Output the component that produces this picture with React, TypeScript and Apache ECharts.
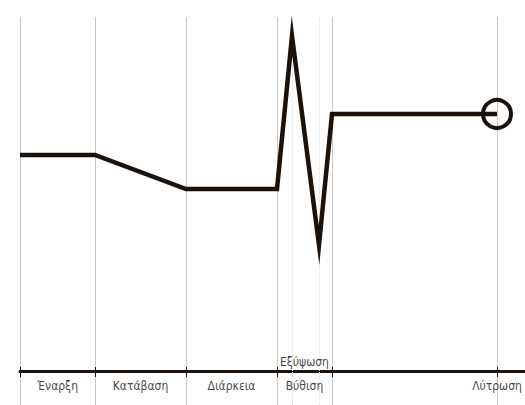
import React, { useEffect, useRef } from "react";
import * as echarts from "echarts";

// Phase boundary positions (x) and line levels (y)
const pointX = [0, 75, 166, 257, 272, 299, 312, 477];
const pointY = [21.6, 21.6, 18.2, 18.2, 33.5, 12.6, 25.7, 25.7];
// Solid boundary lines / ticks
const boundaries = [0, 75, 166, 257, 312, 477];
// Faint dotted lines inside the spike phase
const innerLines = [272, 299];
// Phase labels under the axis (at interval midpoints / end)
const labelPos = [37.5, 120.5, 211.5, 284.5, 477];
const labelText = ["Έναρξη", "Κατάβαση", "Διάρκεια", "Βύθιση", "Λύτρωση"];
// Label above the axis
const upperLabelPos = [284.5];
const upperLabelText = ["Εξύψωση"];

const INK = "#1b120c";
const TEXT = "#111111";
const FONT = "'Liberation Sans Narrow', 'DejaVu Sans Condensed', sans-serif";

export default function App() {
  const ref = useRef<HTMLDivElement>(null);
  useEffect(() => {
    if (!ref.current) return;
    const chart = echarts.init(ref.current, undefined, { renderer: "svg" });
    const lineData = pointX.map((x, i) => [x, pointY[i]]);
    const last = lineData[lineData.length - 1];
    chart.setOption({
      animation: false,
      backgroundColor: "#ffffff",
      grid: {
        left: 20,
        right: 0,
        top: 17,
        bottom: 0,
        containLabel: false,
        outerBoundsMode: "none",
      },
      xAxis: {
        type: "value",
        min: 0,
        max: 505,
        axisLine: { show: true, onZero: true, lineStyle: { color: INK, width: 3 } },
        axisTick: { show: false },
        splitLine: { show: false },
        axisLabel: { show: false },
      },
      yAxis: {
        type: "value",
        min: -3.4,
        max: 35.4,
        show: false,
        splitLine: { show: false },
      },
      series: [
        {
          type: "line",
          data: lineData,
          symbol: "none",
          clip: false,
          z: 5,
          lineStyle: { color: INK, width: 4.5, join: "miter", miterLimit: 20 },
          markLine: {
            silent: true,
            symbol: ["none", "none"],
            label: { show: false },
            z: 1,
            data: [
              ...boundaries.map((x) => ({
                xAxis: x,
                lineStyle: { color: "#c8c8c8", width: 1, type: "solid" },
              })),
              ...innerLines.map((x) => ({
                xAxis: x,
                lineStyle: { color: "#dddddd", width: 1, type: "dotted" },
              })),
            ],
          },
        },
        {
          type: "line",
          data: [],
          z: 6,
          markLine: {
            silent: true,
            symbol: ["none", "none"],
            label: { show: false },
            data: boundaries.map((x) => [
              { coord: [x, -0.6], lineStyle: { color: INK, width: 1, type: "solid" } },
              { coord: [x, 0.4] },
            ]),
          },
        },
        {
          type: "scatter",
          data: [last],
          symbol: "circle",
          symbolSize: 28,
          z: 7,
          itemStyle: { color: "rgba(0,0,0,0)", borderColor: INK, borderWidth: 4, opacity: 1 },
        },
        {
          type: "scatter",
          data: labelPos.map((x) => [x, 0]),
          symbolSize: 0,
          z: 7,
          clip: false,
          label: {
            show: true,
            position: "bottom",
            distance: 9,
            fontFamily: FONT,
            fontSize: 12,
            color: TEXT,
            formatter: (p: any) => labelText[p.dataIndex],
          },
        },
        {
          type: "scatter",
          data: upperLabelPos.map((x) => [x, 0]),
          symbolSize: 0,
          z: 7,
          label: {
            show: true,
            position: "top",
            distance: 3,
            fontFamily: FONT,
            fontSize: 12,
            color: TEXT,
            formatter: (p: any) => upperLabelText[p.dataIndex],
          },
        },
      ],
    });
    return () => chart.dispose();
  }, []);
  return (
    <div
      ref={ref}
      style={{ position: "fixed", left: 0, top: 0, width: "525px", height: "405px" }}
    />
  );
}
